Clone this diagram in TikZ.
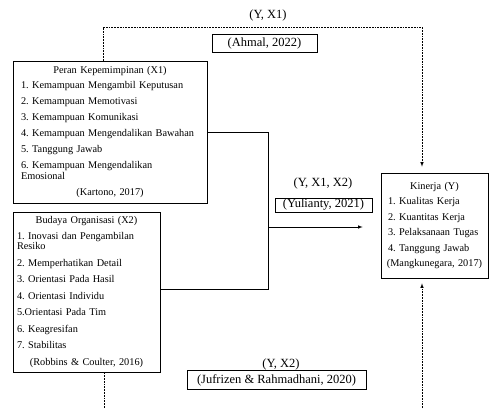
\documentclass[tikz,border=0pt]{standalone}
\usepackage{fontspec}
\setmainfont{Liberation Serif}
\usepackage{tikz}
\frenchspacing

\newcommand{\midline}[1]{\makebox[\hsize]{#1}}

\tikzset{
  varbox/.style={draw, rectangle, line width=0.7pt, align=left, inner ysep=0pt, font=\fontsize{10.3}{10.5}\selectfont},
  refbox/.style={draw, rectangle, line width=0.7pt, inner sep=0pt, font=\fontsize{12.5}{14}\selectfont},
  pathlabel/.style={font=\fontsize{12.5}{14}\selectfont},
  hyplink/.style={dash pattern=on 1.8pt off 1pt, line width=0.6pt}
}

\begin{document}
\begin{tikzpicture}[x=1pt, y=-1pt, >=latex, line width=0.6pt]
    \useasboundingbox (0,0) rectangle (490,408);

    % variables
    \node[varbox, text width=178pt, inner xsep=8pt, minimum height=142pt] (x1) at (110,132) {\midline{Peran Kepemimpinan (X1)}\\[4.5pt]
        1. Kemampuan Mengambil Keputusan\\[5.5pt]
        2. Kemampuan Memotivasi\\[5.5pt]
        3. Kemampuan Komunikasi\\[5.5pt]
        4. Kemampuan Mengendalikan Bawahan\\[5.5pt]
        5. Tanggung Jawab\\[5.5pt]
        6. Kemampuan Mengendalikan\\
        Emosional\\[5.5pt]
        \midline{(Kartono, 2017)}};
    \node[varbox, text width=139pt, inner xsep=4pt, minimum height=160pt] (x2) at (86.5,292) {\midline{Budaya Organisasi (X2)}\\[5.5pt]
        1. Inovasi dan Pengambilan\\
        Resiko\\[6pt]
        2. Memperhatikan Detail\\[6pt]
        3. Orientasi Pada Hasil\\[6pt]
        4. Orientasi Individu\\[6pt]
        5.Orientasi Pada Tim\\[6pt]
        6. Keagresifan\\[6pt]
        7. Stabilitas\\[6pt]
        \midline{(Robbins \& Coulter, 2016)}};
    \node[varbox, text width=93pt, inner xsep=7pt, minimum height=105pt] (y) at (434.5,225.5) {\midline{Kinerja (Y)}\\[5pt]
        1. Kualitas Kerja\\[5pt]
        2. Kuantitas Kerja\\[5pt]
        3. Pelaksanaan Tugas\\[5pt]
        4. Tanggung Jawab\\[5pt]
        \midline{(Mangkunegara, 2017)}};

    % path labels and sources
    \node[pathlabel] (lx1) at (268,15) {(Y, X1)};
    \node[refbox, minimum width=105pt, minimum height=18pt] (ahmal) at (264.5,43) {(Ahmal, 2022)};
    \node[pathlabel] (lx1x2) at (323,183) {(Y, X1, X2)};
    \node[refbox, minimum width=97pt, minimum height=14pt] (yulianty) at (323.5,205) {(Yulianty, 2021)};
    \node[pathlabel] (lx2) at (281,364) {(Y, X2)};
    \node[refbox, minimum width=179pt, minimum height=19pt] (jufrizen) at (276.5,380) {(Jufrizen \& Rahmadhani, 2020)};

    % corners
    \coordinate (c1) at (103,27);
    \coordinate (c2) at (422,27);
    \coordinate (c3) at (104,408);
    \coordinate (c4) at (422,408);
    \coordinate (j1) at (268,132);
    \coordinate (j2) at (268,289);
    \coordinate (j3) at (268,227);

    % partial effects
    \draw[hyplink, ->, shorten >=6pt] (x1.north -| c1) -- (c1) -- (c2) -- (c2 |- y.north);
    \draw[hyplink] (x2.south -| c3) -- (c3);
    \draw[hyplink, ->, shorten >=5pt] (c4) -- (c4 |- y.south);

    % joint effect
    \draw (x1.east) -- (j1) -- (j2) -- (j2 -| x2.east);
    \draw[->, shorten >=18pt] (j3) -- (j3 -| y.west);
\end{tikzpicture}
\end{document}
